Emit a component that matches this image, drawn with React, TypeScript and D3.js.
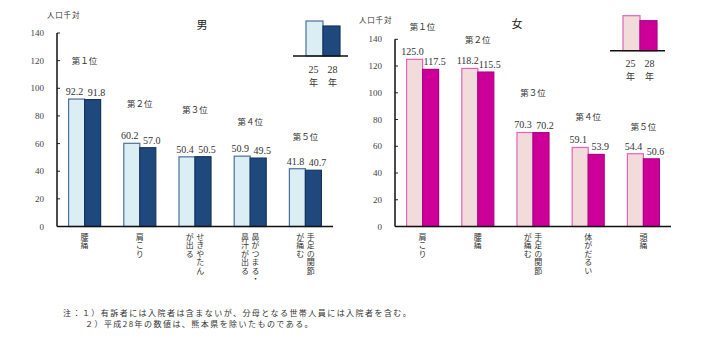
import React from 'react';
import * as d3 from 'd3';

// 有訴者率 上位5症状（人口千対）
const years = ['25', '28'];
const ranks = ['第１位', '第２位', '第３位', '第４位', '第５位'];
const yTicks = [0, 20, 40, 60, 80, 100, 120, 140];

const maleItems = ['腰痛', '肩こり', 'せきやたん|が出る', '鼻がつまる・|鼻汁が出る', '手足の関節|が痛む'];
const male25 = [92.2, 60.2, 50.4, 50.9, 41.8];
const male28 = [91.8, 57.0, 50.5, 49.5, 40.7];

const femaleItems = ['肩こり', '腰痛', '手足の関節|が痛む', '体がだるい', '頭痛'];
const female25 = [125.0, 118.2, 70.3, 59.1, 54.4];
const female28 = [117.5, 115.5, 70.2, 53.9, 50.6];

const notes = [
  '注：１）有訴者には入院者は含まないが、分母となる世帯人員には入院者を含む。',
  '２）平成28年の数値は、熊本県を除いたものである。',
];

const JP = '"Noto Sans CJK JP", sans-serif';
const NUM = '"Liberation Serif", "Times New Roman", serif';

type PanelProps = {
  title: string;
  items: string[];
  v25: number[];
  v28: number[];
  axisX: number;
  topY: number;
  light: string;
  lightStroke: string;
  dark: string;
  darkStroke: string;
  titleX: number;
  titleY: number;
  unitX: number;
  unitY: number;
  rankLift: number[];
  legend: { x: number; y: number };
};

const Panel = (p: PanelProps) => {
  const bottom = 226.5;
  const y = d3.scaleLinear().domain([0, 140]).range([bottom, p.topY]);
  const x = d3
    .scaleBand<string>()
    .domain(p.items)
    .range([p.axisX, p.axisX + 276])
    .paddingInner(0.42)
    .paddingOuter(0.21);
  const inner = d3.scaleBand<string>().domain(years).range([0, x.bandwidth()]);
  const series = [p.v25, p.v28];
  const fills = [p.light, p.dark];
  const strokes = [p.lightStroke, p.darkStroke];

  // legend sample bars (illustrative heights)
  const lgX = d3.scaleBand<string>().domain(years).range([p.legend.x + 13, p.legend.x + 47]);
  const lgH = [35, 30];

  return (
    <g>
      <text x={p.unitX} y={p.unitY} fontSize={7.5} letterSpacing={0.8} fill="#333" fontFamily={JP}>
        人口千対
      </text>
      <text x={p.titleX} y={p.titleY} fontSize={11} fill="#222" textAnchor="middle" fontFamily={JP}>
        {p.title}
      </text>
      {yTicks.map((t) => (
        <g key={t}>
          <line x1={p.axisX} x2={p.axisX + 3} y1={y(t)} y2={y(t)} stroke="#222" strokeWidth={1} />
          <text
            x={p.axisX - 13}
            y={y(t)}
            fontSize={9}
            textAnchor="end"
            dominantBaseline="central"
            fill="#444"
            fontFamily={NUM}
          >
            {t}
          </text>
        </g>
      ))}
      {p.items.map((it, i) => {
        const bx = x(it)!;
        const cx = bx + x.bandwidth() / 2;
        const top = Math.max(p.v25[i], p.v28[i]);
        const cols = it.split('|');
        return (
          <g key={it}>
            {series.map((s, k) => (
              <rect
                key={k}
                x={bx + inner(years[k])!}
                y={y(s[i])}
                width={inner.bandwidth()}
                height={bottom - y(s[i])}
                fill={fills[k]}
                stroke={strokes[k]}
                strokeWidth={1.2}
              />
            ))}
            {series.map((s, k) => (
              <text
                key={'v' + k}
                x={bx + inner(years[k])! + inner.bandwidth() / 2 + (k === 0 ? -2 : 4)}
                y={y(s[i]) - 4}
                fontSize={10}
                textAnchor="middle"
                fill="#333"
                fontFamily={NUM}
              >
                {s[i].toFixed(1)}
              </text>
            ))}
            <text
              x={cx}
              y={y(top) - p.rankLift[i]}
              fontSize={8.5}
              textAnchor="middle"
              dominantBaseline="central"
              fill="#333"
              fontFamily={JP}
            >
              {ranks[i]}
            </text>
            {cols.map((c, ci) => (
              <text
                key={ci}
                x={cx + ((cols.length - 1) / 2 - ci) * 10.5}
                y={233}
                fontSize={8}
                letterSpacing={0.4}
                fill="#333"
                fontFamily={JP}
                style={{ writingMode: 'vertical-rl' }}
              >
                {c}
              </text>
            ))}
          </g>
        );
      })}
      <line x1={p.axisX} x2={p.axisX} y1={y(140)} y2={bottom} stroke="#111" strokeWidth={1.5} />
      <line x1={p.axisX} x2={p.axisX + 276} y1={bottom} y2={bottom} stroke="#111" strokeWidth={1.5} />
      <g>
        {years.map((yr, k) => (
          <g key={yr}>
            <rect
              x={lgX(yr)}
              y={p.legend.y - lgH[k]}
              width={lgX.bandwidth()}
              height={lgH[k]}
              fill={fills[k]}
              stroke={strokes[k]}
              strokeWidth={1.2}
            />
            <text
              x={lgX(yr)! + lgX.bandwidth() / 2 + (k === 0 ? -1 : 1)}
              y={p.legend.y + 13}
              fontSize={10}
              textAnchor="middle"
              dominantBaseline="central"
              fill="#333"
              fontFamily={NUM}
            >
              {yr}
            </text>
            <text
              x={lgX(yr)! + lgX.bandwidth() / 2 + (k === 0 ? -1 : 1)}
              y={p.legend.y + 26}
              fontSize={9}
              textAnchor="middle"
              dominantBaseline="central"
              fill="#333"
              fontFamily={JP}
            >
              年
            </text>
          </g>
        ))}
        <line
          x1={p.legend.x}
          x2={p.legend.x + 55}
          y1={p.legend.y}
          y2={p.legend.y}
          stroke="#111"
          strokeWidth={1.5}
        />
      </g>
    </g>
  );
};

const App = () => {
  return (
    <svg
      width={713}
      height={351}
      style={{ position: 'absolute', left: 0, top: 0, background: '#fff' }}
    >
      <Panel
        title="男"
        items={maleItems}
        v25={male25}
        v28={male28}
        axisX={57}
        topY={33}
        light="#dbeef4"
        lightStroke="#4d6f9c"
        dark="#1f487c"
        darkStroke="#17365d"
        titleX={202}
        titleY={29}
        unitX={47}
        unitY={18}
        rankLift={[39, 40, 48, 35, 33]}
        legend={{ x: 293, y: 56 }}
      />
      <Panel
        title="女"
        items={femaleItems}
        v25={female25}
        v28={female28}
        axisX={395}
        topY={39.3}
        light="#f2dcdb"
        lightStroke="#e462b8"
        dark="#cc0099"
        darkStroke="#b00085"
        titleX={517}
        titleY={28}
        unitX={359}
        unitY={23}
        rankLift={[33.5, 29.3, 40.3, 31.5, 28.1]}
        legend={{ x: 610, y: 50.7 }}
      />
      <text x={63} y={316} fontSize={8} letterSpacing={1.45} fill="#333" fontFamily={JP}>
        {notes[0]}
      </text>
      <text x={85} y={326.5} fontSize={8} letterSpacing={1.45} fill="#333" fontFamily={JP}>
        {notes[1]}
      </text>
    </svg>
  );
};

export default App;
